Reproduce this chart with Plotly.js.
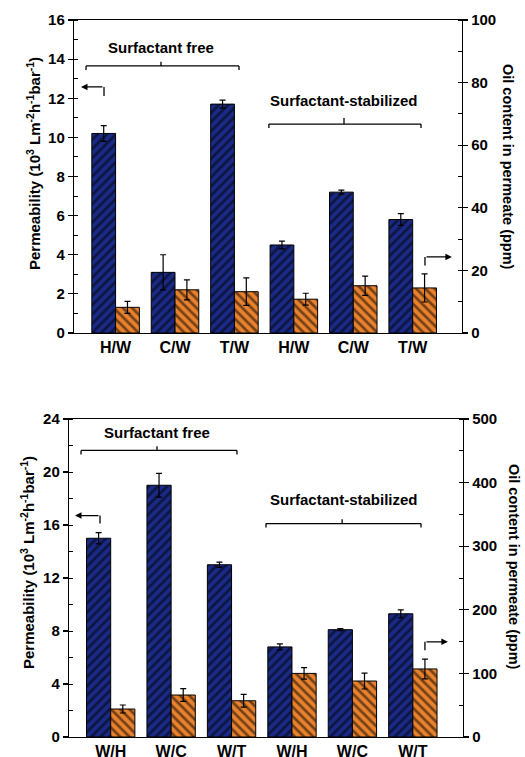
<!DOCTYPE html>
<html><head><meta charset="utf-8">
<script src="https://cdn.plot.ly/plotly-3.0.1.min.js"></script>
<style>html,body{margin:0;padding:0;background:#fff}#chart{width:525px;height:757px}</style>
</head><body><div id="chart"></div>
<script>
// ---- data ----
const catsTop = ["H/W","C/W","T/W","H/W","C/W","T/W"];
const permTop = [10.2, 3.1, 11.7, 4.5, 7.2, 5.8];
const permTopErr = [0.4, 0.9, 0.2, 0.2, 0.1, 0.3];
const oilTop = [8.2, 13.8, 13.2, 10.8, 15.1, 14.4];
const oilTopErr = [1.9, 3.2, 4.4, 1.9, 3.1, 4.5];

const catsBot = ["W/H","W/C","W/T","W/H","W/C","W/T"];
const permBot = [15.0, 19.0, 13.0, 6.8, 8.1, 9.3];
const permBotErr = [0.43, 0.9, 0.2, 0.23, 0.08, 0.3];
const oilBot = [44, 66, 57, 100, 88, 107];
const oilBotErr = [6.3, 10, 10, 9, 12.5, 15.6];

const permTicksTop = [0,2,4,6,8,10,12,14,16];
const oilTicksTop = [0,20,40,60,80,100];
const permTicksBot = [0,4,8,12,16,20,24];
const oilTicksBot = [0,100,200,300,400,500];

// ---- styles ----
const NAVY = "#1a2a85", ORANGE = "#e8822e";
const FONT = "Liberation Sans, Arial, sans-serif";
const idx = a => a.map((_, i) => i);

function barTrace(x, y, err, color, shape, offset, xa, ya) {
  return {
    type: "bar", x: x, y: y, xaxis: xa, yaxis: ya,
    width: 0.4, offset: offset,
    marker: {color: color, line: {color: "#000", width: 1},
             pattern: {shape: shape, fgcolor: "#000", bgcolor: color, size: 6.5, solidity: 0.42, fillmode: "overlay"}},
    error_y: {type: "data", array: err, visible: true, color: "#000", thickness: 1.2, width: 3},
    showlegend: false, hoverinfo: "skip"
  };
}

const data = [
  barTrace(idx(catsTop), permTop, permTopErr, NAVY, "/", -0.4, "x", "y"),
  barTrace(idx(catsTop), oilTop, oilTopErr, ORANGE, "\\", 0, "x", "y2"),
  barTrace(idx(catsBot), permBot, permBotErr, NAVY, "/", -0.4, "x2", "y3"),
  barTrace(idx(catsBot), oilBot, oilBotErr, ORANGE, "\\", 0, "x2", "y4"),
];

const tickFont = {family: FONT, size: 15, color: "#000", weight: "bold"};
function xAxis(cats, domain, anchor, range) {
  return {domain: domain, anchor: anchor, range: range, tickvals: idx(cats), ticktext: cats,
    showline: true, linecolor: "#000", linewidth: 1.2, mirror: true, ticks: "", showgrid: false, zeroline: false,
    tickfont: {family: FONT, size: 16, color: "#000", weight: "bold"}, fixedrange: true};
}
function yAxis(domain, anchor, range, ticks, side, overlaying, minorDtick) {
  const a = {domain: domain, anchor: anchor, range: range, tickvals: ticks, side: side,
    showline: true, linecolor: "#000", linewidth: 1.2, ticks: "outside", ticklen: 5, tickwidth: 1.2, tickcolor: "#000",
    minor: {ticks: "inside", ticklen: 4, tickwidth: 1, tickcolor: "#000", dtick: minorDtick, showgrid: false},
    showgrid: false, zeroline: false, tickfont: tickFont, fixedrange: true};
  if (overlaying) a.overlaying = overlaying;
  return a;
}

const topDom = [1 - 333/757, 1 - 20/757];
const botDom = [1 - 737/757, 1 - 419/757];

const line = (xa, ya, x0, y0, x1, y1) => ({type: "line", xref: xa, yref: ya, x0: x0, y0: y0, x1: x1, y1: y1, line: {color: "#000", width: 1.3}});
function bracket(xa, ya, xl, xr, xm, yb, ydown, yup) {
  return [line(xa, ya, xl, yb, xr, yb), line(xa, ya, xl, yb, xl, ydown), line(xa, ya, xr, yb, xr, ydown), line(xa, ya, xm, yb, xm, yup)];
}
const shapes = [].concat(
  bracket("x", "y", -0.498, 2.077, 0.764, 13.65, 13.45, 13.87),
  bracket("x", "y", 2.58, 5.14, 3.844, 10.68, 10.48, 10.99),
  [line("x", "y", -0.195, 12.12, -0.195, 12.58), line("x", "y", 5.207, 3.45, 5.207, 3.89)],
  bracket("x2", "y3", -0.491, 2.09, 0.766, 21.63, 21.33, 21.95),
  bracket("x2", "y3", 2.57, 5.135, 3.83, 16.11, 15.81, 16.43),
  [line("x2", "y3", -0.177, 16.12, -0.177, 16.71), line("x2", "y3", 5.20, 6.55, 5.20, 7.18)]
);

const annFont = {family: FONT, size: 15, color: "#000", weight: "bold"};
const permFont = {family: FONT, size: 15, color: "#000", weight: "bold"};
const oilFont = {family: FONT, size: 14.5, color: "#000", weight: "bold"};
function arrow(xa, ya, xh, yh, xt) {
  return {xref: xa, yref: ya, axref: xa, ayref: ya, x: xh, y: yh, ax: xt, ay: yh, text: "", showarrow: true,
    arrowhead: 2, arrowsize: 1, arrowwidth: 1.3, arrowcolor: "#000"};
}
const permTitle = "Permeability (10<sup>3</sup> Lm<sup>-2</sup>h<sup>-1</sup>bar<sup>-1</sup>)";
const oilTitle = "Oil content in permeate (ppm)";
function vtitle(x, y, text, angle, font) {
  return {xref: "paper", yref: "paper", x: x/525, y: 1 - y/757, xanchor: "center", yanchor: "middle",
    text: text, textangle: angle, showarrow: false, font: font};
}
const annotations = [
  {xref: "x", yref: "y", x: 0.764, y: 14.57, text: "Surfactant free", showarrow: false, font: annFont},
  {xref: "x", yref: "y", x: 3.844, y: 11.91, text: "Surfactant-stabilized", showarrow: false, font: annFont},
  arrow("x", "y", -0.582, 12.58, -0.195),
  arrow("x", "y", 5.66, 3.89, 5.207),
  {xref: "x2", yref: "y3", x: 0.766, y: 22.99, text: "Surfactant free", showarrow: false, font: annFont},
  {xref: "x2", yref: "y3", x: 3.86, y: 17.92, text: "Surfactant-stabilized", showarrow: false, font: annFont},
  arrow("x2", "y3", -0.591, 16.71, -0.177),
  arrow("x2", "y3", 5.58, 7.18, 5.20),
  vtitle(33, 164, permTitle, -90, permFont),
  vtitle(508, 167, oilTitle, 90, oilFont),
  vtitle(27, 563, permTitle, -90, permFont),
  vtitle(514, 567, oilTitle, 90, oilFont),
];

const layout = {
  width: 525, height: 757, margin: {l: 0, r: 0, t: 0, b: 0},
  paper_bgcolor: "#fff", plot_bgcolor: "#fff", showlegend: false,
  font: {family: FONT, color: "#000"},
  xaxis: xAxis(catsTop, [74/525, 462/525], "y", [-0.7, 5.83]),
  yaxis: yAxis(topDom, "x", [0, 16], permTicksTop, "left", null, 1),
  yaxis2: yAxis(topDom, "x", [0, 100], oilTicksTop, "right", "y", 10),
  xaxis2: xAxis(catsBot, [69/525, 463/525], "y3", [-0.69, 5.83]),
  yaxis3: yAxis(botDom, "x2", [0, 24], permTicksBot, "left", null, 2),
  yaxis4: yAxis(botDom, "x2", [0, 500], oilTicksBot, "right", "y3", 50),
  shapes: shapes, annotations: annotations
};
Plotly.newPlot("chart", data, layout, {staticPlot: true, displayModeBar: false});
</script></body></html>
